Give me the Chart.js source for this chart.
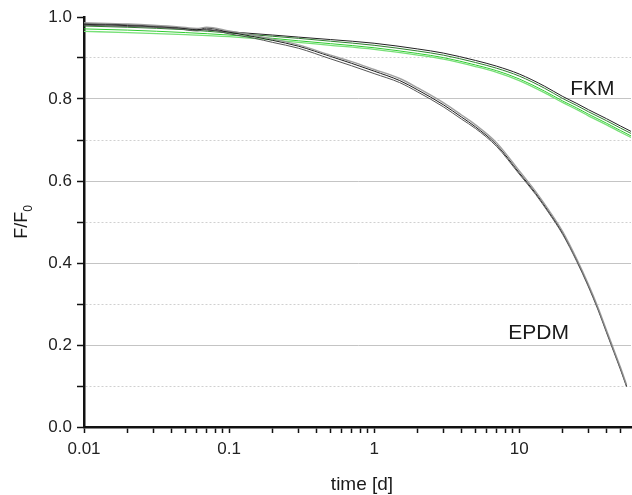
<!DOCTYPE html>
<html>
<head>
<meta charset="utf-8">
<title>F/F0 vs time</title>
<script src="https://cdn.jsdelivr.net/npm/chart.js"></script>
<style>
    body, html { margin: 0; background: #fff; }
    #chart { display: block; }
</style>
</head>
<body>
<canvas id="chart" width="632" height="495"></canvas>
<script>
    // EPDM curves (time in days, F/F0)
    const timeEPDM = [0.01, 0.02, 0.03, 0.045, 0.06, 0.07, 0.1, 0.15, 0.2, 0.3, 0.5, 0.7, 1, 1.5, 2, 3, 4, 5, 7, 10, 13, 16, 20, 25, 30, 35, 40, 45, 50, 55];
    const epdmA = [0.984, 0.981, 0.978, 0.974, 0.969, 0.973, 0.963, 0.952, 0.943, 0.929, 0.904, 0.887, 0.868, 0.845, 0.822, 0.786, 0.756, 0.732, 0.688, 0.620, 0.570, 0.525, 0.472, 0.406, 0.345, 0.288, 0.233, 0.185, 0.142, 0.100];
    const epdmB = [0.980, 0.977, 0.975, 0.971, 0.966, 0.970, 0.959, 0.948, 0.938, 0.924, 0.898, 0.881, 0.862, 0.840, 0.817, 0.781, 0.751, 0.728, 0.684, 0.617, 0.567, 0.522, 0.469, 0.403, 0.342, 0.285, 0.230, 0.182, 0.139, 0.098];
    const epdmC = [0.986, 0.983, 0.980, 0.976, 0.972, 0.975, 0.966, 0.955, 0.946, 0.932, 0.907, 0.891, 0.872, 0.850, 0.827, 0.791, 0.761, 0.737, 0.693, 0.625, 0.574, 0.529, 0.476, 0.409, 0.348, 0.291, 0.236, 0.188, 0.145, 0.103];

    // FKM curves
    const timeFKM = [0.01, 0.02, 0.05, 0.1, 0.2, 0.3, 0.5, 1, 2, 3, 5, 7, 10, 15, 20, 25, 30, 40, 50, 59];
    const fkmBlack = [0.982, 0.979, 0.972, 0.964, 0.956, 0.951, 0.945, 0.936, 0.922, 0.912, 0.894, 0.880, 0.861, 0.831, 0.806, 0.789, 0.774, 0.752, 0.734, 0.721];
    const fkmDark = [0.978, 0.975, 0.969, 0.961, 0.953, 0.948, 0.941, 0.931, 0.917, 0.907, 0.889, 0.875, 0.856, 0.826, 0.801, 0.784, 0.769, 0.747, 0.729, 0.716];
    const fkmGreen1 = [0.971, 0.968, 0.962, 0.956, 0.948, 0.942, 0.935, 0.925, 0.911, 0.901, 0.883, 0.869, 0.849, 0.819, 0.795, 0.778, 0.763, 0.741, 0.723, 0.710];
    const fkmGreen2 = [0.965, 0.962, 0.957, 0.952, 0.944, 0.938, 0.931, 0.921, 0.907, 0.897, 0.879, 0.865, 0.845, 0.815, 0.791, 0.774, 0.759, 0.737, 0.719, 0.706];

    // axis ticks
    const xTicks = [0.01, 0.02, 0.03, 0.04, 0.05, 0.06, 0.07, 0.08, 0.09, 0.1, 0.2, 0.3, 0.4, 0.5, 0.6, 0.7, 0.8, 0.9, 1, 2, 3, 4, 5, 6, 7, 8, 9, 10, 20, 30, 40, 50];
    const xLabels = {0.01: "0.01", 0.1: "0.1", 1: "1", 10: "10"};
    const yLabelled = [0, 0.2, 0.4, 0.6, 0.8, 1.0];

    // curve labels
    const noteText = ["FKM", "EPDM"];
    const noteX = [22.5, 8.4];
    const noteY = [0.81, 0.215];

    const FONT = "'Liberation Sans', Arial, sans-serif";

    function pts(xs, ys) {
        return xs.map((x, i) => ({x: x, y: ys[i]}));
    }

    function line(data, color, width) {
        return {
            data: data,
            borderColor: color,
            borderWidth: width,
            pointRadius: 0,
            fill: false,
            cubicInterpolationMode: "monotone",
        };
    }

    function isLabelled(v) {
        return yLabelled.some(l => Math.abs(l - v) < 1e-6);
    }

    const textPlugin = {
        id: "texts",
        afterDraw(chart) {
            const ctx = chart.ctx;
            const xs = chart.scales.x, ys = chart.scales.y;
            ctx.save();
            ctx.fillStyle = "#1a1a1a";
            ctx.textBaseline = "alphabetic";
            ctx.textAlign = "left";
            ctx.font = "21px " + FONT;
            noteText.forEach((t, i) => {
                ctx.fillText(t, xs.getPixelForValue(noteX[i]), ys.getPixelForValue(noteY[i]));
            });

            // x title
            ctx.font = "19px " + FONT;
            ctx.textAlign = "center";
            ctx.fillText("time [d]", 362, 490);

            // y title with subscript
            ctx.translate(27, 222);
            ctx.rotate(-Math.PI / 2);
            ctx.font = "18px " + FONT;
            const w1 = ctx.measureText("F/F").width;
            ctx.font = "12px " + FONT;
            const w2 = ctx.measureText("0").width;
            ctx.textAlign = "left";
            ctx.font = "18px " + FONT;
            ctx.fillText("F/F", -(w1 + w2) / 2, 0);
            ctx.font = "12px " + FONT;
            ctx.fillText("0", -(w1 + w2) / 2 + w1, 5);
            ctx.restore();
        }
    };

    const ctx = document.getElementById("chart").getContext("2d");
    const myChart = new Chart(ctx, {
        type: "line",
        data: {
            datasets: [
                line(pts(timeEPDM, epdmC), "rgba(150,150,150,0.9)", 1.4),
                line(pts(timeEPDM, epdmB), "#555555", 1),
                line(pts(timeEPDM, epdmA), "#1e1e1e", 1),
                line(pts(timeFKM, fkmGreen2), "#77e077", 1.3),
                line(pts(timeFKM, fkmGreen1), "#2fcc2f", 1),
                line(pts(timeFKM, fkmDark), "#2e7d2e", 1),
                line(pts(timeFKM, fkmBlack), "#222222", 1),
            ],
        },
        options: {
            responsive: false,
            animation: false,
            devicePixelRatio: 1,
            layout: { padding: { top: 17, right: 1, left: 0, bottom: 0 } },
            plugins: {
                legend: { display: false },
                tooltip: { enabled: false },
            },
            scales: {
                x: {
                    type: "logarithmic",
                    min: 0.01,
                    max: 59,
                    afterBuildTicks: (scale) => {
                        scale.ticks = xTicks.map(v => ({value: v}));
                    },
                    afterFit: (scale) => { scale.height = 68; },
                    ticks: {
                        autoSkip: false,
                        maxRotation: 0,
                        padding: 6,
                        color: "#222",
                        font: { family: FONT, size: 17 },
                        callback: (v) => xLabels[v] || "",
                    },
                    grid: {
                        drawOnChartArea: false,
                        drawTicks: true,
                        tickLength: 6,
                        tickColor: "#111",
                        tickWidth: 1.5,
                    },
                    border: { display: true, color: "#111", width: 2.5 },
                },
                y: {
                    min: 0,
                    max: 1,
                    afterFit: (scale) => { scale.width = 84; },
                    ticks: {
                        stepSize: 0.1,
                        padding: 5,
                        color: "#222",
                        font: { family: FONT, size: 17 },
                        callback: (v) => isLabelled(v) ? v.toFixed(1) : "",
                    },
                    grid: {
                        drawTicks: true,
                        tickLength: 7,
                        tickColor: "#111",
                        tickWidth: 1.5,
                        lineWidth: 1,
                        color: (c) => {
                            const v = c.tick ? c.tick.value : 0;
                            if (v < 0.05 || v > 0.95) return "rgba(0,0,0,0)";
                            return isLabelled(v) ? "#c4c4c4" : "#d0d0d0";
                        },
                    },
                    border: {
                        display: true,
                        color: "#111",
                        width: 2.5,
                        dash: (c) => {
                            if (!c.tick) return [];
                            return isLabelled(c.tick.value) ? [] : [2, 2];
                        },
                    },
                },
            },
        },
        plugins: [textPlugin],
    });
</script>
</body>
</html>
